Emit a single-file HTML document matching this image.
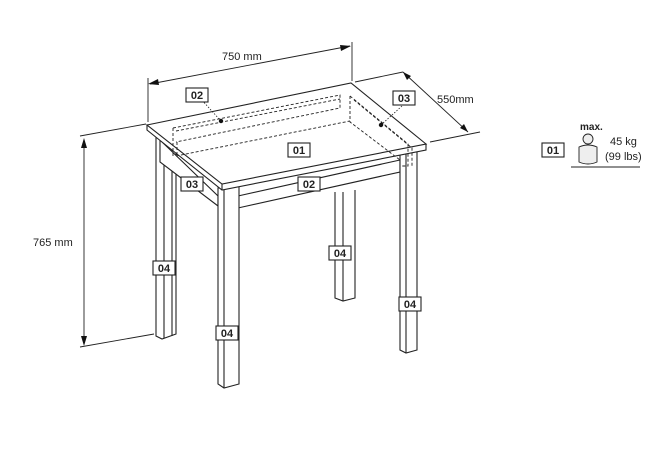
<!DOCTYPE html>
<html><head><meta charset="utf-8"><style>
html,body{margin:0;padding:0;background:#fff;}
svg{display:block;}
text{font-family:"Liberation Sans",sans-serif;fill:#222;}
.b{font-weight:bold;font-size:11px;}
</style></head><body>
<svg width="654" height="472" viewBox="0 0 654 472" xmlns="http://www.w3.org/2000/svg">
<g fill="#fff" stroke="#222" stroke-width="1.1">
<path d="M156,134 L156,336 L162,339 L176,334 L176,148"/>
<line x1="164" y1="138" x2="164" y2="338"/>
<line x1="172" y1="145" x2="172" y2="336"/>
<path d="M335,192 L335,298 L343,301 L355,298 L355,190"/>
<line x1="343" y1="192" x2="343" y2="301"/>
<path d="M160,140 L160,162 L218,206 L218,196 Z"/>
<path d="M238,196 L400,160 L400,172 L238,208 Z"/>
<path d="M400,148 L400,350 L406,353 L417,350 L417,146"/>
<line x1="406" y1="150" x2="406" y2="353"/>
<path d="M218,188 L218,384 L224,388 L239,384 L239,186 Z"/>
<line x1="224" y1="190" x2="224" y2="388"/>
<path d="M147,125 L147,130 L222,190 L426,150 L426,144 Z"/>
<path d="M147,125 L351,83 L426,144 L222,184 Z"/>
<line x1="222" y1="184" x2="222" y2="190"/>
</g>
<g fill="none" stroke="#222" stroke-width="0.9" stroke-dasharray="3,2">
<path d="M173,128 L340,95 L340,108 L176,142"/>
<path d="M173,128 L173,156 M177,142 L177,155"/>
<path d="M176,131 L340,99"/>
<path d="M176,156 L350,121"/>
<path d="M350,96 L408,144 L408,166 L402,166"/>
<path d="M350,96 L350,122 L400,160"/>
<path d="M354,100 L412,148 L412,166"/>
</g>
<g stroke="#222" stroke-width="0.8" stroke-dasharray="1.5,1.5">
<line x1="200" y1="98" x2="220" y2="120"/>
<line x1="402" y1="106" x2="382" y2="124"/>
</g>
<circle cx="221" cy="121" r="2.2" fill="#111"/>
<circle cx="381" cy="125" r="2.2" fill="#111"/>
<g stroke="#222" stroke-width="0.9" fill="none">
<line x1="148" y1="78" x2="148" y2="122"/>
<line x1="352" y1="42" x2="352" y2="81"/>
<line x1="150" y1="84" x2="350" y2="46"/>
<line x1="355" y1="82" x2="403" y2="72"/>
<line x1="430" y1="142" x2="480" y2="132"/>
<line x1="403" y1="72" x2="468" y2="132"/>
<line x1="80" y1="136" x2="146" y2="124"/>
<line x1="80" y1="347" x2="154" y2="334"/>
<line x1="84" y1="140" x2="84" y2="344"/>
<line x1="571" y1="167" x2="640" y2="167"/>
</g>
<g fill="#111">
<path d="M148,84 L158,79 L159,85 Z"/>
<path d="M351,46 L341,51 L340,45 Z"/>
<path d="M403,72 L411,76 L407,80 Z"/>
<path d="M468,132 L460,128 L464,124 Z"/>
<path d="M84,138 L81,148 L87,148 Z"/>
<path d="M84,346 L81,336 L87,336 Z"/>
</g>
<text x="222" y="60" font-size="11">750 mm</text>
<text x="437" y="103" font-size="11">550mm</text>
<text x="33" y="246" font-size="11">765 mm</text>
<g fill="#fff" stroke="#222" stroke-width="1.1">
<rect x="186" y="88" width="22" height="14"/>
<rect x="393" y="91" width="22" height="14"/>
<rect x="288" y="143" width="22" height="14"/>
<rect x="181" y="177" width="22" height="14"/>
<rect x="298" y="177" width="22" height="14"/>
<rect x="153" y="261" width="22" height="14"/>
<rect x="329" y="246" width="22" height="14"/>
<rect x="399" y="297" width="22" height="14"/>
<rect x="216" y="326" width="22" height="14"/>
<rect x="542" y="143" width="22" height="14"/>
</g>
<g class="b" text-anchor="middle">
<text x="197" y="99" class="b">02</text>
<text x="404" y="102" class="b">03</text>
<text x="299" y="154" class="b">01</text>
<text x="192" y="188" class="b">03</text>
<text x="309" y="188" class="b">02</text>
<text x="164" y="272" class="b">04</text>
<text x="340" y="257" class="b">04</text>
<text x="410" y="308" class="b">04</text>
<text x="227" y="337" class="b">04</text>
<text x="553" y="154" class="b">01</text>
</g>
<text x="580" y="130" font-size="10" font-weight="bold">max.</text>
<circle cx="588" cy="139" r="5" fill="#eee" stroke="#222" stroke-width="0.9"/>
<path d="M579,147 Q588,143 597,147 L597,162 Q588,166 579,162 Z" fill="#eee" stroke="#222" stroke-width="0.9"/>
<text x="610" y="145" font-size="11">45 kg</text>
<text x="605" y="160" font-size="11">(99 lbs)</text>
</svg>
</body></html>
